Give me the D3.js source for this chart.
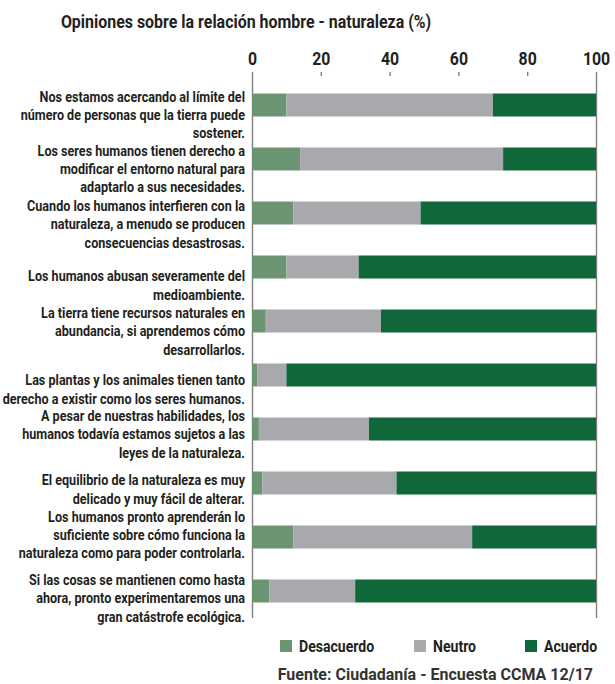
<!DOCTYPE html>
<html>
<head>
<meta charset="utf-8">
<script src="https://cdn.jsdelivr.net/npm/d3@7"></script>
<style>
  body { margin: 0; background: #fff; }
  svg { font-family: Roboto, "Liberation Sans", sans-serif; font-weight: 700; }
  .lbl { fill: #231f20; font-size: 15px; }
  .tick text { fill: #231f20; font-size: 18px; font-weight: 700; font-family: Roboto, sans-serif; }
</style>
</head>
<body>
<svg width="615" height="684"></svg>
<script>
// statements (line breaks as in the original)
const statements = [
  "Nos estamos acercando al límite del\nnúmero de personas que la tierra puede\nsostener.",
  "Los seres humanos tienen derecho a\nmodificar el entorno natural para\nadaptarlo a sus necesidades.",
  "Cuando los humanos interfieren con la\nnaturaleza, a menudo se producen\nconsecuencias desastrosas.",
  "Los humanos abusan severamente del\nmedioambiente.",
  "La tierra tiene recursos naturales en\nabundancia, si aprendemos cómo\ndesarrollarlos.",
  "Las plantas y los animales tienen tanto\nderecho a existir como los seres humanos.",
  "A pesar de nuestras habilidades, los\nhumanos todavía estamos sujetos a las\nleyes de la naturaleza.",
  "El equilibrio de la naturaleza es muy\ndelicado y muy fácil de alterar.",
  "Los humanos pronto aprenderán lo\nsuficiente sobre cómo funciona la\nnaturaleza como para poder controlarla.",
  "Si las cosas se mantienen como hasta\nahora, pronto experimentaremos una\ngran catástrofe ecológica."
]
const desacuerdo = [10, 14, 12, 10, 4, 1.5, 2, 3, 12, 5]
const neutro     = [60, 59, 37, 21, 33.5, 8.5, 32, 39, 52, 25]
const acuerdo    = [30, 27, 51, 69, 62.5, 90, 66, 58, 36, 70]
const seriesNames = ["Desacuerdo", "Neutro", "Acuerdo"]
const xTicks = [0, 20, 40, 60, 80, 100]

const colors = ["#6b9472", "#a8a9ac", "#0f673a"]
// small hand nudges of the label blocks, as in the original layout
const labelNudge = [0, 0, 1.5, 8.5, 0.5, 4.5, -4.5, -3.5, -12, -2.5]

const rows = statements.map((s, i) => ({
  key: s, Desacuerdo: desacuerdo[i], Neutro: neutro[i], Acuerdo: acuerdo[i]
}))

const svg = d3.select("svg")

const x = d3.scaleLinear().domain([0, 100]).range([252, 596])
const y = d3.scaleBand()
  .domain(statements)
  .range([78, 618])
  .paddingInner(0.574)
  .paddingOuter(0.287)

svg.append("text")
  .attr("x", 246)
  .attr("y", 28)
  .attr("text-anchor", "middle")
  .attr("fill", "#231f20")
  .style("font-size", "19px")
  .attr("transform", "translate(246,0) scale(0.84,1) translate(-246,0)")
  .text("Opiniones sobre la relación hombre - naturaleza (%)")

// axis
const axis = svg.append("g")
  .attr("transform", "translate(0,72)")
  .call(d3.axisTop(x).tickValues(xTicks).tickSizeInner(-4).tickSizeOuter(0).tickPadding(7))

axis.select(".domain").remove()
axis.selectAll(".tick line")
  .attr("stroke", "#808080")
  .attr("stroke-width", 1.4)
  .attr("y2", d => (d === 0 || d === 100) ? 618 - 72 : 4)
axis.selectAll(".tick text")
  .attr("transform", "scale(0.88,1)")

// bars
const stacked = d3.stack().keys(seriesNames)(rows)

svg.append("g")
  .selectAll("g")
  .data(stacked)
  .join("g")
  .attr("fill", (d, i) => colors[i])
  .selectAll("rect")
  .data(d => d)
  .join("rect")
  .attr("x", d => x(d[0]))
  .attr("width", d => x(d[1]) - x(d[0]))
  .attr("y", d => y(d.data.key))
  .attr("height", y.bandwidth())

// category labels
const lh = 18.3
const labels = svg.append("g")
  .selectAll("g.label")
  .data(statements)
  .join("g")
  .attr("class", "label")
  .attr("transform", (d, i) => {
    const n = d.split("\n").length
    const cy = y(d) + y.bandwidth() / 2
    const top = cy - (n - 1) * lh / 2 + 15 + labelNudge[i]
    return `translate(245, ${top}) scale(0.84,1)`
  })

labels.selectAll("text")
  .data(d => d.split("\n"))
  .join("text")
  .attr("class", "lbl")
  .attr("text-anchor", "end")
  .attr("x", 0)
  .attr("y", (d, i) => i * lh)
  .text(d => d)

// legend
const legendX = [280, 414, 525]
const legend = svg.append("g")
  .selectAll("g")
  .data(seriesNames)
  .join("g")
  .attr("transform", (d, i) => `translate(${legendX[i]}, 640)`)

legend.append("rect")
  .attr("width", 12)
  .attr("height", 12)
  .attr("fill", (d, i) => colors[i])

legend.append("text")
  .attr("x", 19)
  .attr("y", 12)
  .attr("fill", "#231f20")
  .style("font-size", "16px")
  .attr("transform", "translate(19,0) scale(0.88,1) translate(-19,0)")
  .text(d => d)

svg.append("text")
  .attr("x", 593)
  .attr("y", 680)
  .attr("text-anchor", "end")
  .attr("fill", "#333")
  .style("font-size", "16.5px")
  .attr("transform", "translate(593,0) scale(0.97,1) translate(-593,0)")
  .text("Fuente: Ciudadanía - Encuesta CCMA 12/17")
</script>
</body>
</html>
